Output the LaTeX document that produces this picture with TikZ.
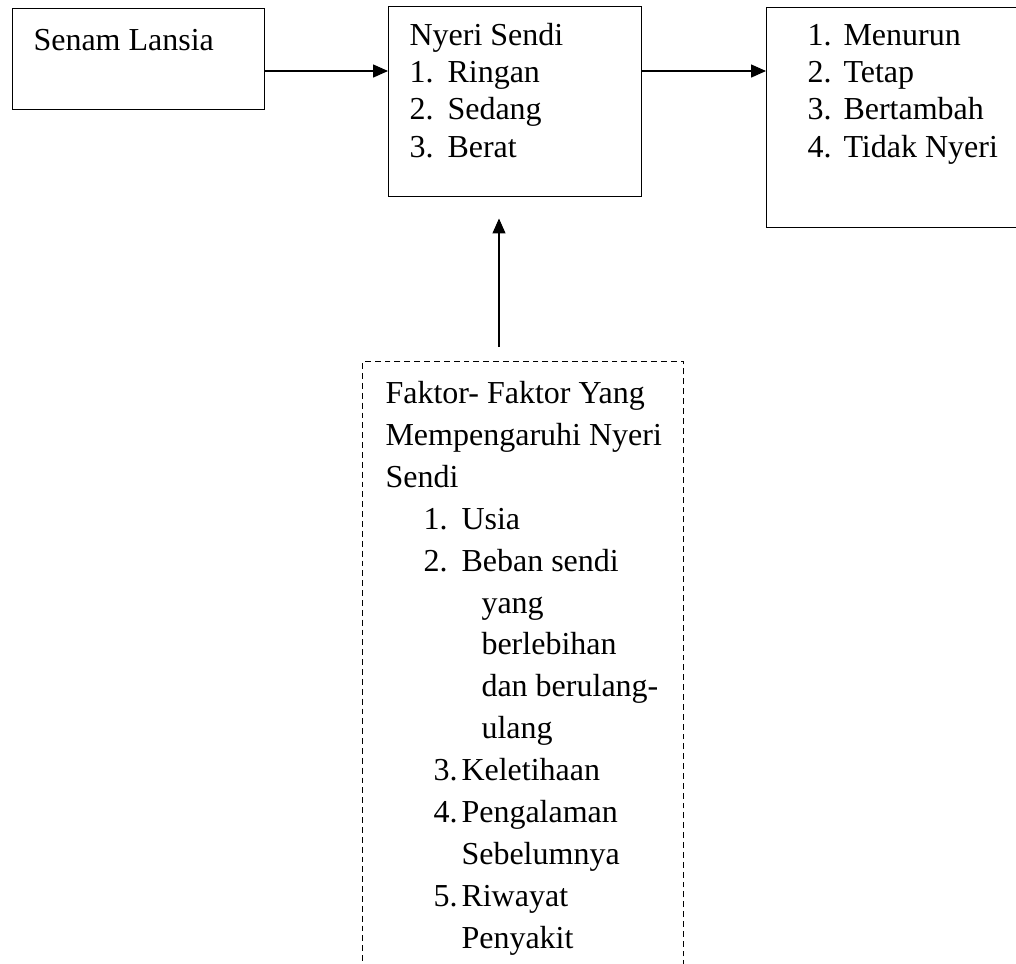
\documentclass[tikz,border=0pt]{standalone}
\usepackage{fontspec}
\setmainfont{Liberation Serif}
\usepackage{tikz}
\usetikzlibrary{arrows.meta,calc}
\newcommand{\pxu}{0.375pt}
\newcommand{\itemno}[2]{\makebox[#1][l]{#2}}

\begin{document}
\begin{tikzpicture}[x=0.375pt,y=-0.375pt,
  box/.style={draw,line width=0.55pt,inner sep=0pt,anchor=north west},
  dbox/.style={draw,line width=0.4pt,dash pattern=on 2.2pt off 1.5pt,inner sep=0pt,anchor=north west},
  txt/.style={anchor=base west,inner sep=0pt,align=left,font=\fontsize{12}{14}\selectfont},
  arr/.style={line width=0.4pt,-{Triangle[length=5.6pt,width=4.9pt]}}]
\useasboundingbox (0,0) rectangle (1016,963);

% boxes
\node[box,minimum width=252*\pxu,minimum height=101*\pxu] (senam) at (12,8) {};
\node[box,minimum width=253*\pxu,minimum height=190*\pxu] (nyeri) at (388,6) {};
\node[box,minimum width=264*\pxu,minimum height=220*\pxu] (hasil) at (766,7) {};
\node[dbox,minimum width=321*\pxu,minimum height=639*\pxu] (faktor) at (362,361) {};

% texts (base = last line)
\node[txt] (senamtxt) at (33,50) {Senam Lansia};
\node[txt] (nyeritxt) at (409,157) {Nyeri Sendi\\
  \itemno{14.25pt}{1.}Ringan\\
  \itemno{14.25pt}{2.}Sedang\\
  \itemno{14.25pt}{3.}Berat};
\node[txt] (hasiltxt) at (807,157) {\itemno{13.5pt}{1.}Menurun\\
  \itemno{13.5pt}{2.}Tetap\\
  \itemno{13.5pt}{3.}Bertambah\\
  \itemno{13.5pt}{4.}Tidak Nyeri};
\node[txt,font=\fontsize{12}{15.7}\selectfont] (faktortxt) at (385,948) {Faktor- Faktor Yang\\
  Mempengaruhi Nyeri\\
  Sendi\\
  \hspace*{14.25pt}\itemno{14.25pt}{1.}Usia\\
  \hspace*{14.25pt}\itemno{14.25pt}{2.}Beban sendi\\
  \hspace*{36pt}yang\\
  \hspace*{36pt}berlebihan\\
  \hspace*{36pt}dan berulang-\\
  \hspace*{36pt}ulang\\
  \hspace*{18pt}\itemno{10.5pt}{3.}Keletihaan\\
  \hspace*{18pt}\itemno{10.5pt}{4.}Pengalaman\\
  \hspace*{28.5pt}Sebelumnya\\
  \hspace*{18pt}\itemno{10.5pt}{5.}Riwayat\\
  \hspace*{28.5pt}Penyakit};

% arrows
\coordinate (row) at (0,71);
\coordinate (col) at (499,0);
\draw[arr] (senam.east |- row) -- (nyeri.west |- row);
\draw[arr] (nyeri.east |- row) -- (hasil.west |- row);
\draw[arr,shorten <=5.25pt,shorten >=7.9pt] (faktor.north -| col) -- (nyeri.south -| col);
\end{tikzpicture}
\end{document}
